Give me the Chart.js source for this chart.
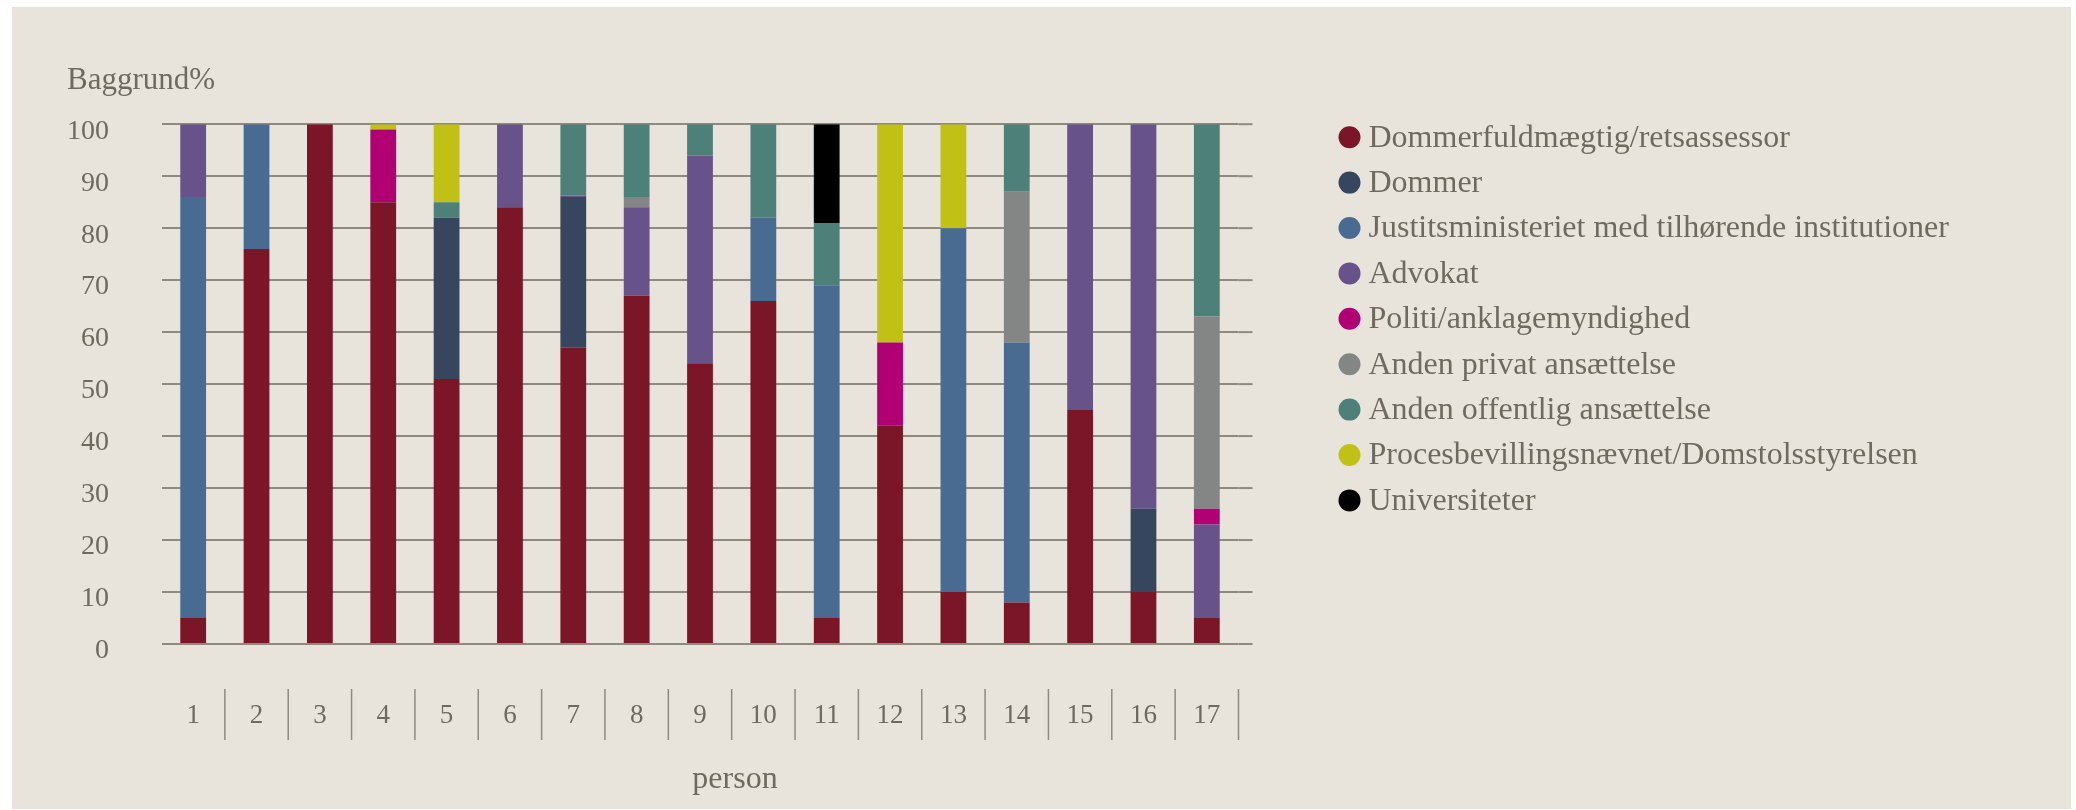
<!DOCTYPE html>
<html>
<head>
<meta charset="utf-8">
<script src="https://cdn.jsdelivr.net/npm/chart.js@4.4.1/dist/chart.umd.min.js"></script>
<style>
  html, body { margin: 0; padding: 0; background: #ffffff; }
  #wrap { position: absolute; left: 12px; top: 7px; width: 2059px; height: 802px; background: #e8e4dc; }
</style>
</head>
<body>
<div id="wrap"><canvas id="myChart"></canvas></div>
<script>
// persons 1..17
const persons = ['1','2','3','4','5','6','7','8','9','10','11','12','13','14','15','16','17']

// background share in percent, one array per category
const dommerfuldmaegtig = [5, 76, 100, 85, 51, 84, 57, 67, 54, 66, 5, 42, 10, 8, 45, 10, 5]
const dommer            = [0, 0, 0, 0, 31, 0, 29, 0, 0, 0, 0, 0, 0, 0, 0, 16, 0]
const justitsmin        = [81, 24, 0, 0, 0, 0, 0, 0, 0, 16, 64, 0, 70, 50, 0, 0, 0]
const advokat           = [14, 0, 0, 0, 0, 16, 0.3, 17, 40, 0, 0, 0, 0, 0, 55, 74, 18]
const politi            = [0, 0, 0, 14, 0, 0, 0, 0, 0, 0, 0, 16, 0, 0, 0, 0, 3]
const andenPrivat       = [0, 0, 0, 0, 0, 0, 0, 2, 0, 0, 0, 0, 0, 29, 0, 0, 37]
const andenOffentlig    = [0, 0, 0, 0, 3, 0, 13.7, 14, 6, 18, 12, 0, 0, 13, 0, 0, 37]
const procesbevilling   = [0, 0, 0, 1, 15, 0, 0, 0, 0, 0, 0, 42, 20, 0, 0, 0, 0]
const universiteter     = [0, 0, 0, 0, 0, 0, 0, 0, 0, 0, 19, 0, 0, 0, 0, 0, 0]

const seriesNames = [
    'Dommerfuldmægtig/retsassessor',
    'Dommer',
    'Justitsministeriet med tilhørende institutioner',
    'Advokat',
    'Politi/anklagemyndighed',
    'Anden privat ansættelse',
    'Anden offentlig ansættelse',
    'Procesbevillingsnævnet/Domstolsstyrelsen',
    'Universiteter'
]
const seriesValues = [dommerfuldmaegtig, dommer, justitsmin, advokat, politi, andenPrivat, andenOffentlig, procesbevilling, universiteter]
const seriesColors = ['#7a1628', '#36465f', '#496a91', '#67528a', '#b00074', '#838685', '#4e807a', '#c1c115', '#000000']

const yTicks = [0, 10, 20, 30, 40, 50, 60, 70, 80, 90, 100]
const xTitle = 'person'
const yTitle = 'Baggrund%'

const textColor = '#6f6a60'
const lineColor = '#8f8a7f'
const serif = '"Liberation Serif", "DejaVu Serif", serif'

Chart.defaults.font.family = serif
Chart.defaults.color = textColor

// separators under the x labels, grid stubs, x title and the legend list
const decorations = {
    id: 'decorations',
    afterDraw(chart) {
        const ctx = chart.ctx
        const area = chart.chartArea
        const x = chart.scales.x
        const y = chart.scales.y
        const half = (x.getPixelForValue(1) - x.getPixelForValue(0)) / 2
        ctx.save()
        ctx.strokeStyle = lineColor
        ctx.lineWidth = 1.5
        for (let i = 0; i < persons.length; i++) {
            const px = x.getPixelForValue(i) + half
            ctx.beginPath()
            ctx.moveTo(px, area.bottom + 45)
            ctx.lineTo(px, area.bottom + 96)
            ctx.stroke()
        }
        ctx.lineWidth = 2
        yTicks.forEach(v => {
            const py = y.getPixelForValue(v)
            ctx.beginPath()
            ctx.moveTo(area.right, py)
            ctx.lineTo(area.right + 14, py)
            ctx.stroke()
        })
        ctx.fillStyle = textColor
        ctx.font = '32px ' + serif
        ctx.textAlign = 'center'
        ctx.textBaseline = 'middle'
        ctx.fillText(xTitle, (area.left + area.right) / 2 + 35, area.bottom + 136)

        // legend
        ctx.textAlign = 'left'
        chart.data.datasets.forEach((ds, i) => {
            const cx = area.right + 111
            const cy = area.top + 13 + i * 45.4
            ctx.fillStyle = ds.backgroundColor
            ctx.beginPath()
            ctx.arc(cx, cy, 11, 0, Math.PI * 2)
            ctx.fill()
            ctx.fillStyle = textColor
            ctx.fillText(ds.label, cx + 19, cy + 1)
        })
        ctx.restore()
    }
}

new Chart(document.getElementById('myChart').getContext('2d'), {
    type: 'bar',
    data: {
        labels: persons,
        datasets: seriesNames.map((name, i) => ({
            label: name,
            data: seriesValues[i],
            backgroundColor: seriesColors[i],
            borderWidth: 0,
            categoryPercentage: 1,
            barPercentage: 0.407
        }))
    },
    options: {
        responsive: true,
        maintainAspectRatio: false,
        animation: false,
        layout: {
            padding: {left: 55, top: 0, right: 832.5, bottom: 28.6}
        },
        scales: {
            x: {
                stacked: true,
                grid: {display: false},
                border: {display: false},
                ticks: {padding: 48, font: {size: 27}, color: textColor}
            },
            y: {
                stacked: true,
                min: 0,
                max: 100,
                grid: {color: lineColor, lineWidth: 2, drawTicks: false},
                border: {display: false},
                ticks: {stepSize: 10, padding: 52.5, labelOffset: 7, font: {size: 28}, color: textColor},
                afterFit(scale) { scale.width = 94.5 }
            }
        },
        plugins: {
            tooltip: {enabled: false},
            legend: {display: false},
            title: {
                display: true,
                text: yTitle,
                align: 'start',
                color: textColor,
                font: {size: 31, weight: 'normal'},
                padding: {top: 55, bottom: 25}
            }
        }
    },
    plugins: [decorations]
})
</script>
</body>
</html>
